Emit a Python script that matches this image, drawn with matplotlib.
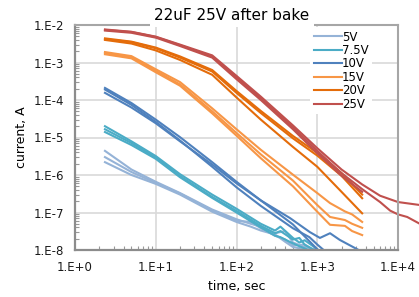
import numpy as np
import matplotlib
matplotlib.use('Agg')
import matplotlib.pyplot as plt
from matplotlib.ticker import LogLocator, FuncFormatter, NullFormatter

# time axis (sec) for each group of runs
t_main = [2.35, 5, 10, 20, 50, 100, 200, 500, 1000, 2000, 3600]
t_ext1 = [2.35, 5, 10, 20, 50, 100, 200, 500, 1000, 2000, 3600, 6000, 10000, 18000]
t_ext2 = [2.35, 5, 10, 20, 50, 100, 200, 500, 1000, 2000, 3600, 6000, 8000, 10000, 13000, 18000]
t_15v = [2.35, 5, 10, 20, 50, 100, 200, 500, 1000, 1440, 2200, 2700, 3600]
t_10a = [2.35, 5, 10, 20, 50, 100, 200, 500, 1000]
t_10b = [2.35, 5, 10, 20, 50, 100, 200, 500, 800, 1000, 1200]
t_10c = [2.35, 5, 10, 20, 50, 100, 200, 460, 810, 1080, 1440, 1900, 3600]
t_75v = [2.35, 5, 10, 20, 50, 100, 200, 300, 350, 500, 600, 700, 1000]
t_5v = [2.35, 5, 10, 20, 50, 100, 150, 200, 300, 400, 500, 700, 1000]

# current (A)
i_25v_1 = [7.6e-3, 6.6e-3, 4.9e-3, 3.0e-3, 1.55e-3, 4.4e-4, 1.23e-4, 2.1e-5, 5.2e-6, 1.4e-6, 5.6e-7, 2.8e-7, 1.9e-7, 1.6e-7]
i_25v_2 = [7.4e-3, 6.5e-3, 4.8e-3, 2.9e-3, 1.45e-3, 4.0e-4, 1.1e-4, 1.86e-5, 4.4e-6, 1.12e-6, 4.2e-7, 1.9e-7, 1.12e-7, 8.9e-8, 7.6e-8, 5.2e-8]
i_25v_3 = [7.1e-3, 6.2e-3, 4.6e-3, 2.75e-3, 1.35e-3, 3.6e-4, 1.0e-4, 1.66e-5, 3.8e-6, 9.5e-7, 3.55e-7]

i_20v_1 = [4.4e-3, 3.6e-3, 2.5e-3, 1.45e-3, 6.3e-4, 1.74e-4, 5.1e-5, 1.1e-5, 3.9e-6, 1.12e-6, 3.0e-7]
i_20v_2 = [4.2e-3, 3.5e-3, 2.4e-3, 1.35e-3, 5.75e-4, 1.55e-4, 4.5e-5, 9.5e-6, 3.3e-6, 9.5e-7, 2.4e-7]
i_20v_3 = [4.0e-3, 3.2e-3, 2.1e-3, 1.17e-3, 4.7e-4, 1.17e-4, 3.0e-5, 5.6e-6, 1.66e-6, 3.55e-7, 9.5e-8]

i_15v_1 = [1.9e-3, 1.48e-3, 6.6e-4, 3.0e-4, 6.0e-5, 1.66e-5, 4.7e-6, 1.02e-6, 3.3e-7, 1.78e-7, 1.07e-7, 8.9e-8, 5.6e-8]
i_15v_2 = [1.78e-3, 1.38e-3, 6.0e-4, 2.6e-4, 5.0e-5, 1.32e-5, 3.55e-6, 7.1e-7, 1.58e-7, 7.6e-8, 6.3e-8, 5.0e-8, 3.9e-8]
i_15v_3 = [1.66e-3, 1.29e-3, 5.5e-4, 2.4e-4, 4.4e-5, 1.12e-5, 2.8e-6, 5.0e-7, 1.05e-7, 4.7e-8, 4.4e-8, 3.2e-8, 2.5e-8]

i_10v_1 = [2.1e-4, 8.3e-5, 3.0e-5, 1.02e-5, 2.2e-6, 6.6e-7, 2.1e-7, 4.8e-8, 1.05e-8]
i_10v_2 = [1.9e-4, 7.4e-5, 2.6e-5, 8.3e-6, 1.66e-6, 4.7e-7, 1.5e-7, 3.8e-8, 2.2e-8, 1.4e-8, 1.0e-8]
i_10v_3 = [1.55e-4, 6.3e-5, 2.4e-5, 7.9e-6, 1.9e-6, 6.0e-7, 2.1e-7, 7.1e-8, 3.0e-8, 2.1e-8, 2.8e-8, 1.86e-8, 8.9e-9]

i_75v_1 = [2.0e-5, 7.9e-6, 3.2e-6, 1.05e-6, 3.0e-7, 1.26e-7, 5.0e-8, 3.3e-8, 4.2e-8, 2.1e-8, 1.58e-8, 1.82e-8, 1.05e-8]
i_75v_2 = [1.66e-5, 7.1e-6, 2.9e-6, 9.3e-7, 2.6e-7, 1.1e-7, 4.4e-8, 2.8e-8, 3.2e-8, 1.9e-8, 2.1e-8, 1.38e-8, 8.9e-9]
i_75v_3 = [1.4e-5, 6.3e-6, 2.7e-6, 8.7e-7, 2.45e-7, 1.0e-7, 4.0e-8, 2.4e-8, 2.2e-8, 1.5e-8, 1.26e-8, 1.1e-8, 7.9e-9]

i_5v_1 = [4.4e-6, 1.4e-6, 6.6e-7, 3.3e-7, 1.2e-7, 6.6e-8, 5.0e-8, 4.2e-8, 2.8e-8, 3.2e-8, 1.58e-8, 1.2e-8, 1.0e-8]
i_5v_2 = [3.0e-6, 1.2e-6, 6.2e-7, 3.2e-7, 1.12e-7, 6.0e-8, 5.6e-8, 3.8e-8, 2.4e-8, 1.9e-8, 1.32e-8, 1.4e-8, 8.9e-9]
i_5v_3 = [2.2e-6, 1.0e-6, 5.8e-7, 3.0e-7, 1.05e-7, 5.6e-8, 4.2e-8, 3.3e-8, 2.6e-8, 1.66e-8, 1.2e-8, 1.05e-8, 7.9e-9]

labels = ['5V', '7.5V', '10V', '15V', '20V', '25V']
colors = ['#95b3d7', '#4bacc6', '#4f81bd', '#f79646', '#e46c0a', '#c0504d']

groups = [
    [(t_5v, i_5v_1), (t_5v, i_5v_2), (t_5v, i_5v_3)],
    [(t_75v, i_75v_1), (t_75v, i_75v_2), (t_75v, i_75v_3)],
    [(t_10a, i_10v_1), (t_10b, i_10v_2), (t_10c, i_10v_3)],
    [(t_15v, i_15v_1), (t_15v, i_15v_2), (t_15v, i_15v_3)],
    [(t_main, i_20v_1), (t_main, i_20v_2), (t_main, i_20v_3)],
    [(t_ext1, i_25v_1), (t_ext2, i_25v_2), (t_main, i_25v_3)],
]

plt.rcParams['font.family'] = ['DejaVu Sans']
fig = plt.figure(figsize=(4.19, 2.97), dpi=100)
ax = fig.add_axes([75/419, 47/297, 323/419, 225/297])

for k in range(len(groups)):
    for j, (t, cur) in enumerate(groups[k]):
        # the 25V runs go on past the right edge of the plot
        ax.plot(t, cur, color=colors[k], lw=1.5,
                label=labels[k] if j == 0 else None,
                clip_on=(k != 5), solid_joinstyle='round')

ax.set_xscale('log')
ax.set_yscale('log')
ax.set_xlim(1, 1e4)
ax.set_ylim(1e-8, 1e-2)

fmt = FuncFormatter(lambda v, p: '1.E%+d' % int(round(np.log10(v))))
ax.xaxis.set_major_formatter(fmt)
ax.yaxis.set_major_formatter(fmt)
ax.xaxis.set_minor_locator(LogLocator(base=10, subs=np.arange(2, 10), numticks=20))
ax.yaxis.set_minor_locator(LogLocator(base=10, subs=np.arange(2, 10), numticks=20))
ax.xaxis.set_minor_formatter(NullFormatter())
ax.yaxis.set_minor_formatter(NullFormatter())
ax.tick_params(which='major', length=0, pad=8, labelsize=8.5, colors='#1a1a1a')
ax.tick_params(which='minor', direction='in', length=3, width=0.8, color='#999999')

ax.grid(True, which='major', color='#d9d9d9', lw=1.2)
ax.set_axisbelow(True)
for side in ['top', 'right']:
    ax.spines[side].set_color('#a6a6a6')
    ax.spines[side].set_linewidth(1.5)
for side in ['left', 'bottom']:
    ax.spines[side].set_color('#8c8c8c')
    ax.spines[side].set_linewidth(1.6)

ax.set_xlabel('time, sec', fontsize=9, labelpad=4)
ax.set_ylabel('current, A', fontsize=9, labelpad=4)

fig.text(232/419, 1 - 15/297, '22uF 25V after bake', ha='center', va='center',
         fontsize=11, bbox=dict(facecolor='white', edgecolor='none', pad=3))

leg = ax.legend(loc='upper left', bbox_to_anchor=(310/419, 1 - 27/297),
                bbox_transform=fig.transFigure, fontsize=8.5, frameon=True,
                fancybox=False, edgecolor='none', facecolor='white', framealpha=1,
                handlelength=2.4, handletextpad=0.0, labelspacing=0.04,
                borderpad=0.3, borderaxespad=0)

fig.savefig('out.png', dpi=100)
